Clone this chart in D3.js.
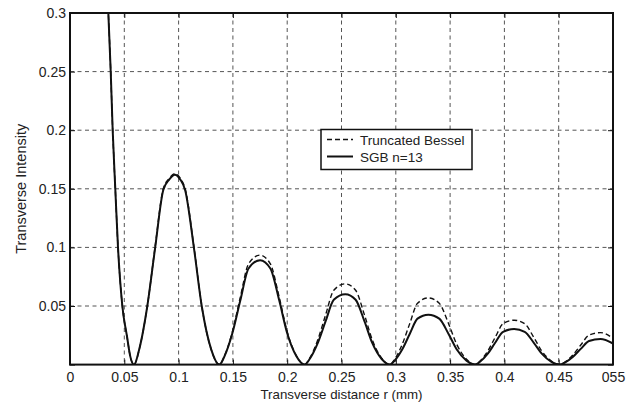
<!DOCTYPE html>
<html><head><meta charset="utf-8">
<script src="https://cdn.jsdelivr.net/npm/d3@7"></script>
<style>body{margin:0;background:#fff}text{font-family:"Liberation Sans",Arial,sans-serif;fill:#222}</style>
</head><body><svg id="c" width="627" height="405"></svg>
<script>
// transverse distance r (mm), shared sample positions
const rPoints = [
  0.0340, 0.0353, 0.0375, 0.0393, 0.0417, 0.0442, 0.0482, 0.0525, 0.0555, 0.0590,
  0.0640, 0.0712, 0.0783, 0.0859, 0.0915, 0.0965, 0.1015, 0.1060, 0.1142, 0.1213, 0.1300, 0.1375,
  0.1425, 0.1497, 0.1568, 0.1644, 0.1750, 0.1845, 0.1927, 0.1998, 0.2085, 0.2160,
  0.2210, 0.2282, 0.2353, 0.2429, 0.2535, 0.2630, 0.2712, 0.2783, 0.2870, 0.2945,
  0.2992, 0.3060, 0.3128, 0.3200, 0.3300, 0.3400, 0.3486, 0.3560, 0.3651, 0.3730,
  0.3778, 0.3847, 0.3915, 0.3988, 0.4090, 0.4187, 0.4271, 0.4344, 0.4433, 0.4510,
  0.4560, 0.4632, 0.4703, 0.4779, 0.4885, 0.5000
];
const besselValues = [
  0.325, 0.300, 0.250, 0.200, 0.150, 0.100, 0.050, 0.024, 0.007, 0,
  0.014, 0.050, 0.100, 0.150, 0.159, 0.163, 0.159, 0.150, 0.100, 0.050, 0.013, 0,
  0.0080, 0.0287, 0.0573, 0.0859, 0.0934, 0.0859, 0.0573, 0.0287, 0.0075, 0,
  0.0059, 0.0212, 0.0422, 0.0634, 0.0689, 0.0634, 0.0422, 0.0212, 0.0055, 0,
  0.0049, 0.0175, 0.0349, 0.0523, 0.0569, 0.0523, 0.0349, 0.0175, 0.0046, 0,
  0.0033, 0.0116, 0.0232, 0.0349, 0.0379, 0.0349, 0.0232, 0.0116, 0.0030, 0,
  0.0023, 0.0084, 0.0167, 0.0251, 0.0273, 0.0225
];
const sgbValues = [
  0.325, 0.300, 0.250, 0.200, 0.150, 0.100, 0.050, 0.024, 0.007, 0,
  0.014, 0.050, 0.099, 0.149, 0.158, 0.162, 0.158, 0.149, 0.099, 0.050, 0.013, 0,
  0.0077, 0.0274, 0.0546, 0.0820, 0.0891, 0.0820, 0.0546, 0.0274, 0.0071, 0,
  0.0052, 0.0185, 0.0368, 0.0553, 0.0601, 0.0553, 0.0368, 0.0185, 0.0048, 0,
  0.0037, 0.0131, 0.0261, 0.0392, 0.0426, 0.0392, 0.0261, 0.0131, 0.0034, 0,
  0.0026, 0.0093, 0.0186, 0.0280, 0.0304, 0.0280, 0.0186, 0.0093, 0.0024, 0,
  0.0019, 0.0067, 0.0134, 0.0201, 0.0219, 0.0180
];
const seriesNames = ["Truncated Bessel", "SGB n=13"];
const xTickValues = [0, 0.05, 0.1, 0.15, 0.2, 0.25, 0.3, 0.35, 0.4, 0.45, 0.5];
const xTickLabels = ["0", "0.05", "0.1", "0.15", "0.2", "0.25", "0.3", "0.35", "0.4", "0.45", "055"];
const yTickValues = [0, 0.05, 0.1, 0.15, 0.2, 0.25, 0.3];
const yTickLabels = ["", "0.05", "0.1", "0.15", "0.2", "0.25", "0.3"];
const xTitle = "Transverse distance r (mm)";
const yTitle = "Transverse Intensity";

const svg = d3.select("#c");
svg.append("rect").attr("width", 627).attr("height", 405).attr("fill", "#fff");
const L = 70, R = 613, T = 13, B = 364.6;
const x = d3.scaleLinear().domain([0, 0.5]).range([L, R]);
const y = d3.scaleLinear().domain([0, 0.3]).range([B, T]);

// grid
const grid = svg.append("g");
grid.selectAll("line.v").data(xTickValues.slice(1, -1)).enter().append("line")
  .attr("x1", d => x(d)).attr("x2", d => x(d)).attr("y1", T).attr("y2", B)
  .attr("stroke", "#555").attr("stroke-width", 1).attr("stroke-dasharray", "4,3.5");
grid.selectAll("line.h").data(yTickValues.slice(1, -1)).enter().append("line")
  .attr("x1", L).attr("x2", R).attr("y1", d => y(d)).attr("y2", d => y(d))
  .attr("stroke", "#555").attr("stroke-width", 1).attr("stroke-dasharray", "4,3.5");

// axes (inward ticks, MATLAB style)
const fmtX = d => xTickLabels[xTickValues.indexOf(d)];
const fmtY = d => yTickLabels[yTickValues.indexOf(d)];
const ax = svg.append("g").attr("transform", `translate(0,${B})`)
  .call(d3.axisBottom(x).tickValues(xTickValues).tickFormat(fmtX).tickSize(-5).tickPadding(7));
const ay = svg.append("g").attr("transform", `translate(${L},0)`)
  .call(d3.axisLeft(y).tickValues(yTickValues).tickFormat(fmtY).tickSize(-5).tickPadding(4));
const at = svg.append("g").attr("transform", `translate(0,${T})`)
  .call(d3.axisTop(x).tickValues(xTickValues).tickFormat("").tickSize(-5));
const ar = svg.append("g").attr("transform", `translate(${R},0)`)
  .call(d3.axisRight(y).tickValues(yTickValues).tickFormat("").tickSize(-5));
[ax, ay, at, ar].forEach(g => {
  g.select(".domain").remove();
  g.selectAll(".tick line").attr("stroke", "#111").attr("stroke-width", 1);
  g.selectAll("text").attr("font-size", 14).attr("fill", "#222")
    .style("font-family", '"Liberation Sans", Arial, sans-serif');
});

// curves
svg.append("clipPath").attr("id", "clip").append("rect")
  .attr("x", L).attr("y", T).attr("width", R - L).attr("height", B - T);
const pts = vals => rPoints.map((r, i) => [r, vals[i]]);
const line = d3.line().x(d => x(d[0])).y(d => y(d[1])).curve(d3.curveMonotoneX);
const plot = svg.append("g").attr("clip-path", "url(#clip)");
plot.append("path").attr("d", line(pts(besselValues))).attr("fill", "none")
  .attr("stroke", "#111").attr("stroke-width", 1.4).attr("stroke-dasharray", "5,3");
plot.append("path").attr("d", line(pts(sgbValues))).attr("fill", "none")
  .attr("stroke", "#111").attr("stroke-width", 2);

// frame
svg.append("rect").attr("x", L).attr("y", T).attr("width", R - L).attr("height", B - T)
  .attr("fill", "none").attr("stroke", "#111").attr("stroke-width", 2);

// titles
svg.append("text").attr("x", (L + R) / 2).attr("y", 398.5).attr("text-anchor", "middle")
  .attr("font-size", 13.3).text(xTitle);
svg.append("text").attr("transform", `translate(26,${(T + B) / 2}) rotate(-90)`)
  .attr("text-anchor", "middle").attr("font-size", 14.5).text(yTitle);

// legend
const lg = svg.append("g");
lg.append("rect").attr("x", 321).attr("y", 129.5).attr("width", 151).attr("height", 40)
  .attr("fill", "#fff").attr("stroke", "#111").attr("stroke-width", 1.5);
const styles = [{w: 1.4, dash: "5,3"}, {w: 2, dash: null}];
seriesNames.forEach((name, i) => {
  const yy = 139.5 + i * 17;
  lg.append("line").attr("x1", 327).attr("x2", 353).attr("y1", yy).attr("y2", yy)
    .attr("stroke", "#111").attr("stroke-width", styles[i].w)
    .attr("stroke-dasharray", styles[i].dash);
  lg.append("text").attr("x", 360).attr("y", yy + 5).attr("font-size", 13.5).text(name);
});
</script></body></html>
